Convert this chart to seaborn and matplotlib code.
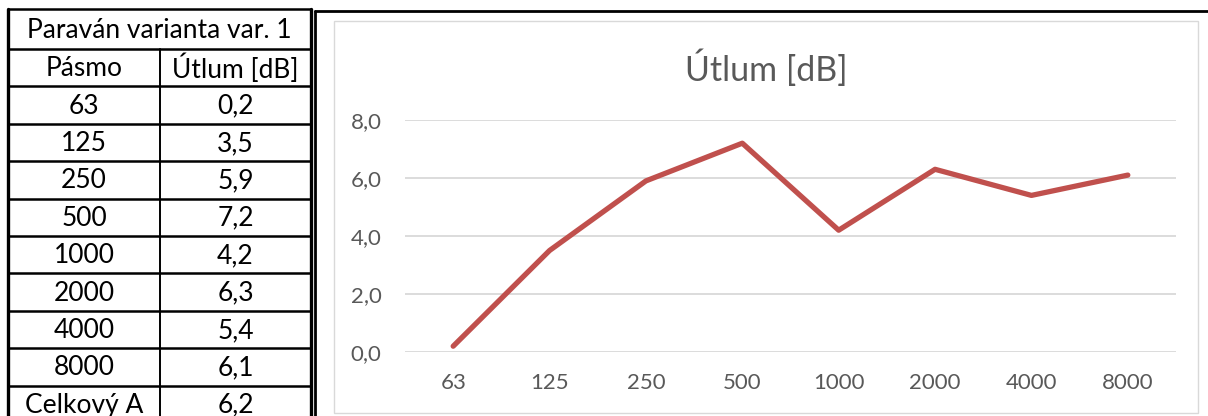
import matplotlib
matplotlib.use("Agg")
import matplotlib.pyplot as plt
from matplotlib.ticker import FuncFormatter
import seaborn as sns

# data
bands = ["63", "125", "250", "500", "1000", "2000", "4000", "8000"]
utlum = [0.2, 3.5, 5.9, 7.2, 4.2, 6.3, 5.4, 6.1]
total_label = "Celkový A"
total_value = 6.2
table_title = "Paraván varianta var. 1"
col_headers = ["Pásmo", "Útlum [dB]"]
chart_title = "Útlum [dB]"

W, H = 1208, 416
sns.set_theme(style="white")
plt.rcParams["font.family"] = ["Lato", "DejaVu Sans"]

fig = plt.figure(figsize=(W / 100, H / 100), dpi=100)
fig.patch.set_facecolor("white")

# overlay in pixel coordinates for table and frames
bg = fig.add_axes([0, 0, 1, 1], zorder=0)
bg.set_xlim(0, W)
bg.set_ylim(H, 0)
bg.axis("off")

def fmt(v):
    return f"{v:.1f}".replace(".", ",")

rows_y = [9, 49] + [49 + 37.4 * i for i in range(1, 11)]
x_left, x_mid, x_right = 8, 160, 311
rows = [(b, fmt(v)) for b, v in zip(bands, utlum)] + [(total_label, fmt(total_value))]

# table grid
for y in rows_y:
    bg.plot([x_left, x_right], [y, y], color="black", lw=1.8, solid_capstyle="butt")
bg.plot([x_left, x_left], [rows_y[0], H], color="black", lw=2.4)
bg.plot([x_right, x_right], [rows_y[0], H], color="black", lw=2.4)
bg.plot([x_mid, x_mid], [rows_y[1], H], color="black", lw=1.4)

tfs = 19
bg.text((x_left + x_right) / 2, (rows_y[0] + rows_y[1]) / 2 + 1, table_title,
        ha="center", va="center", fontsize=tfs, color="black")
bg.text((x_left + x_mid) / 2, (rows_y[1] + rows_y[2]) / 2 + 1, col_headers[0],
        ha="center", va="center", fontsize=tfs, color="black")
bg.text((x_mid + x_right) / 2, (rows_y[1] + rows_y[2]) / 2 + 1, col_headers[1],
        ha="center", va="center", fontsize=tfs, color="black")
for i, (a, b) in enumerate(rows):
    yc = (rows_y[i + 2] + rows_y[i + 3]) / 2 + 1
    bg.text((x_left + x_mid) / 2, yc, a, ha="center", va="center", fontsize=tfs, color="black")
    bg.text((x_mid + x_right) / 2, yc, b, ha="center", va="center", fontsize=tfs, color="black")

# chart frames
bg.plot([315, 315], [11, H], color="black", lw=2.0)
bg.plot([315, W], [11, 11], color="black", lw=2.0)
bg.add_patch(plt.Rectangle((334, 21), 864, 392, fill=False, ec="#d9d9d9", lw=1.0))
bg.text(766, 68, chart_title, ha="center", va="center", fontsize=24.5, color="#595959")

# chart
ax = fig.add_axes([405 / W, (H - 352) / H, 771 / W, 232 / H], zorder=1)
ax.patch.set_alpha(0)
sns.lineplot(x=bands, y=utlum, ax=ax, color="#C0504D", linewidth=3.8, sort=False)
for line in ax.lines:
    line.set_solid_capstyle("round")
    line.set_clip_on(False)
ax.set_xlim(-0.5, len(bands) - 0.5)
ax.set_ylim(0, 8)
ax.set_yticks([0, 2, 4, 6, 8])
ax.yaxis.set_major_formatter(FuncFormatter(lambda v, p: fmt(v)))
ax.grid(axis="y", color="#d9d9d9", lw=1.3)
ax.grid(axis="x", visible=False)
ax.set_axisbelow(True)
for s in ax.spines.values():
    s.set_visible(False)
ax.tick_params(axis="both", length=0, colors="#595959", labelsize=16)
ax.tick_params(axis="y", pad=17)
ax.tick_params(axis="x", pad=15)
ax.set_xlabel("")
ax.set_ylabel("")

fig.savefig("out.png", dpi=100, facecolor="white")
